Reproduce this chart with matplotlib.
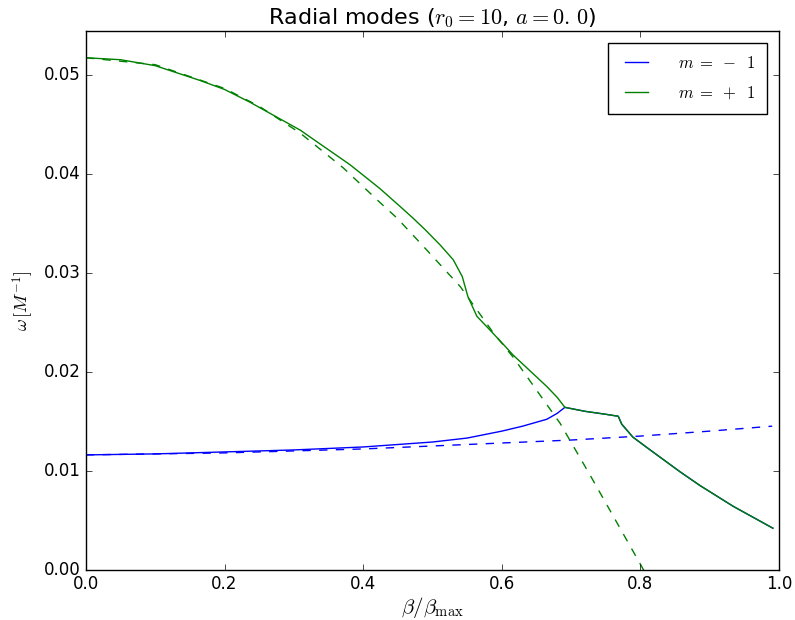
#Radial mode frequencies vs beta/beta_max, classic matplotlib look
import matplotlib
matplotlib.use("Agg")
import matplotlib.pyplot as plt

#m = +1 full (solid) and approximate (dashed) curves
beta_green = [0.0, 0.05, 0.1, 0.165, 0.2, 0.237, 0.309, 0.381, 0.424, 0.453, 0.472,
              0.49, 0.511, 0.530, 0.543, 0.551, 0.564, 0.583, 0.607, 0.616, 0.665, 0.68,
              0.691, 0.72, 0.75, 0.768, 0.773, 0.789, 0.814, 0.857, 0.886, 0.934, 0.991]
omega_green = [0.0517, 0.0515, 0.0509, 0.0494, 0.0485, 0.0472, 0.0444, 0.0409, 0.0385,
               0.0367, 0.0355, 0.0343, 0.0328, 0.0313, 0.0296, 0.0276, 0.0256, 0.0242,
               0.0224, 0.0217, 0.0185, 0.0174, 0.0164, 0.0160, 0.0157, 0.0155, 0.0147,
               0.0134, 0.0121, 0.0099, 0.0085, 0.0064, 0.0042]

beta_green_dash = [0.0, 0.1, 0.2, 0.25, 0.309, 0.371, 0.424, 0.449, 0.485, 0.540,
                   0.587, 0.616, 0.684, 0.727, 0.802, 0.82]
omega_green_dash = [0.0517, 0.0510, 0.0486, 0.0468, 0.0441, 0.0406, 0.0371, 0.0355,
                    0.0328, 0.0286, 0.0240, 0.0215, 0.0148, 0.0096, 0.0003, -0.002]

#m = -1 curves (solid merges with m=+1 after the crossing)
beta_blue = [0.0, 0.1, 0.2, 0.3, 0.4, 0.5, 0.55, 0.6, 0.63, 0.65, 0.665, 0.68, 0.691,
             0.72, 0.75, 0.768, 0.773, 0.789, 0.814, 0.857, 0.886, 0.934, 0.991]
omega_blue = [0.0116, 0.0117, 0.0119, 0.0121, 0.0124, 0.0129, 0.0133, 0.0140, 0.0145,
              0.0149, 0.0152, 0.0158, 0.0164, 0.0160, 0.0157, 0.0155, 0.0147, 0.0134,
              0.0121, 0.0099, 0.0085, 0.0064, 0.0042]

beta_blue_dash = [0.0, 0.1, 0.2, 0.3, 0.4, 0.5, 0.6, 0.7, 0.8, 0.9, 0.99]
omega_blue_dash = [0.0116, 0.0117, 0.0118, 0.0120, 0.0122, 0.0125, 0.0128, 0.0131,
                   0.0135, 0.0140, 0.0145]

plt.style.use("classic")
fig = plt.figure(figsize=(7.95, 6.2), dpi=100, facecolor="white")
ax = fig.add_axes([0.108, 0.081, 0.872, 0.869])

ax.plot(beta_blue, omega_blue, "b-", label=r"$m\;=\;-\;\;1$")
ax.plot(beta_green, omega_green, "g-", label=r"$m\;=\;+\;\;1$")
ax.plot(beta_blue_dash, omega_blue_dash, "b--")
ax.plot(beta_green_dash, omega_green_dash, "g--")

ax.set_xlim(0, 1.0)
ax.set_ylim(0, 0.0544)
ax.set_yticks([0.0, 0.01, 0.02, 0.03, 0.04, 0.05])

ax.set_xlabel(r"$\beta/\beta_{\rm max}$", fontsize=15, labelpad=1)
ax.set_ylabel(r"$\omega\,[M^{-1}]$", fontsize=13)
ax.set_title(r"Radial modes ($r_0=10$, $a=0.\,0$)", fontsize=16)
ax.legend(loc="upper right", fontsize=12, borderpad=0.7, labelspacing=0.7,
          handletextpad=1.5, borderaxespad=0.7)

fig.savefig("out.png", dpi=100, facecolor="white")
